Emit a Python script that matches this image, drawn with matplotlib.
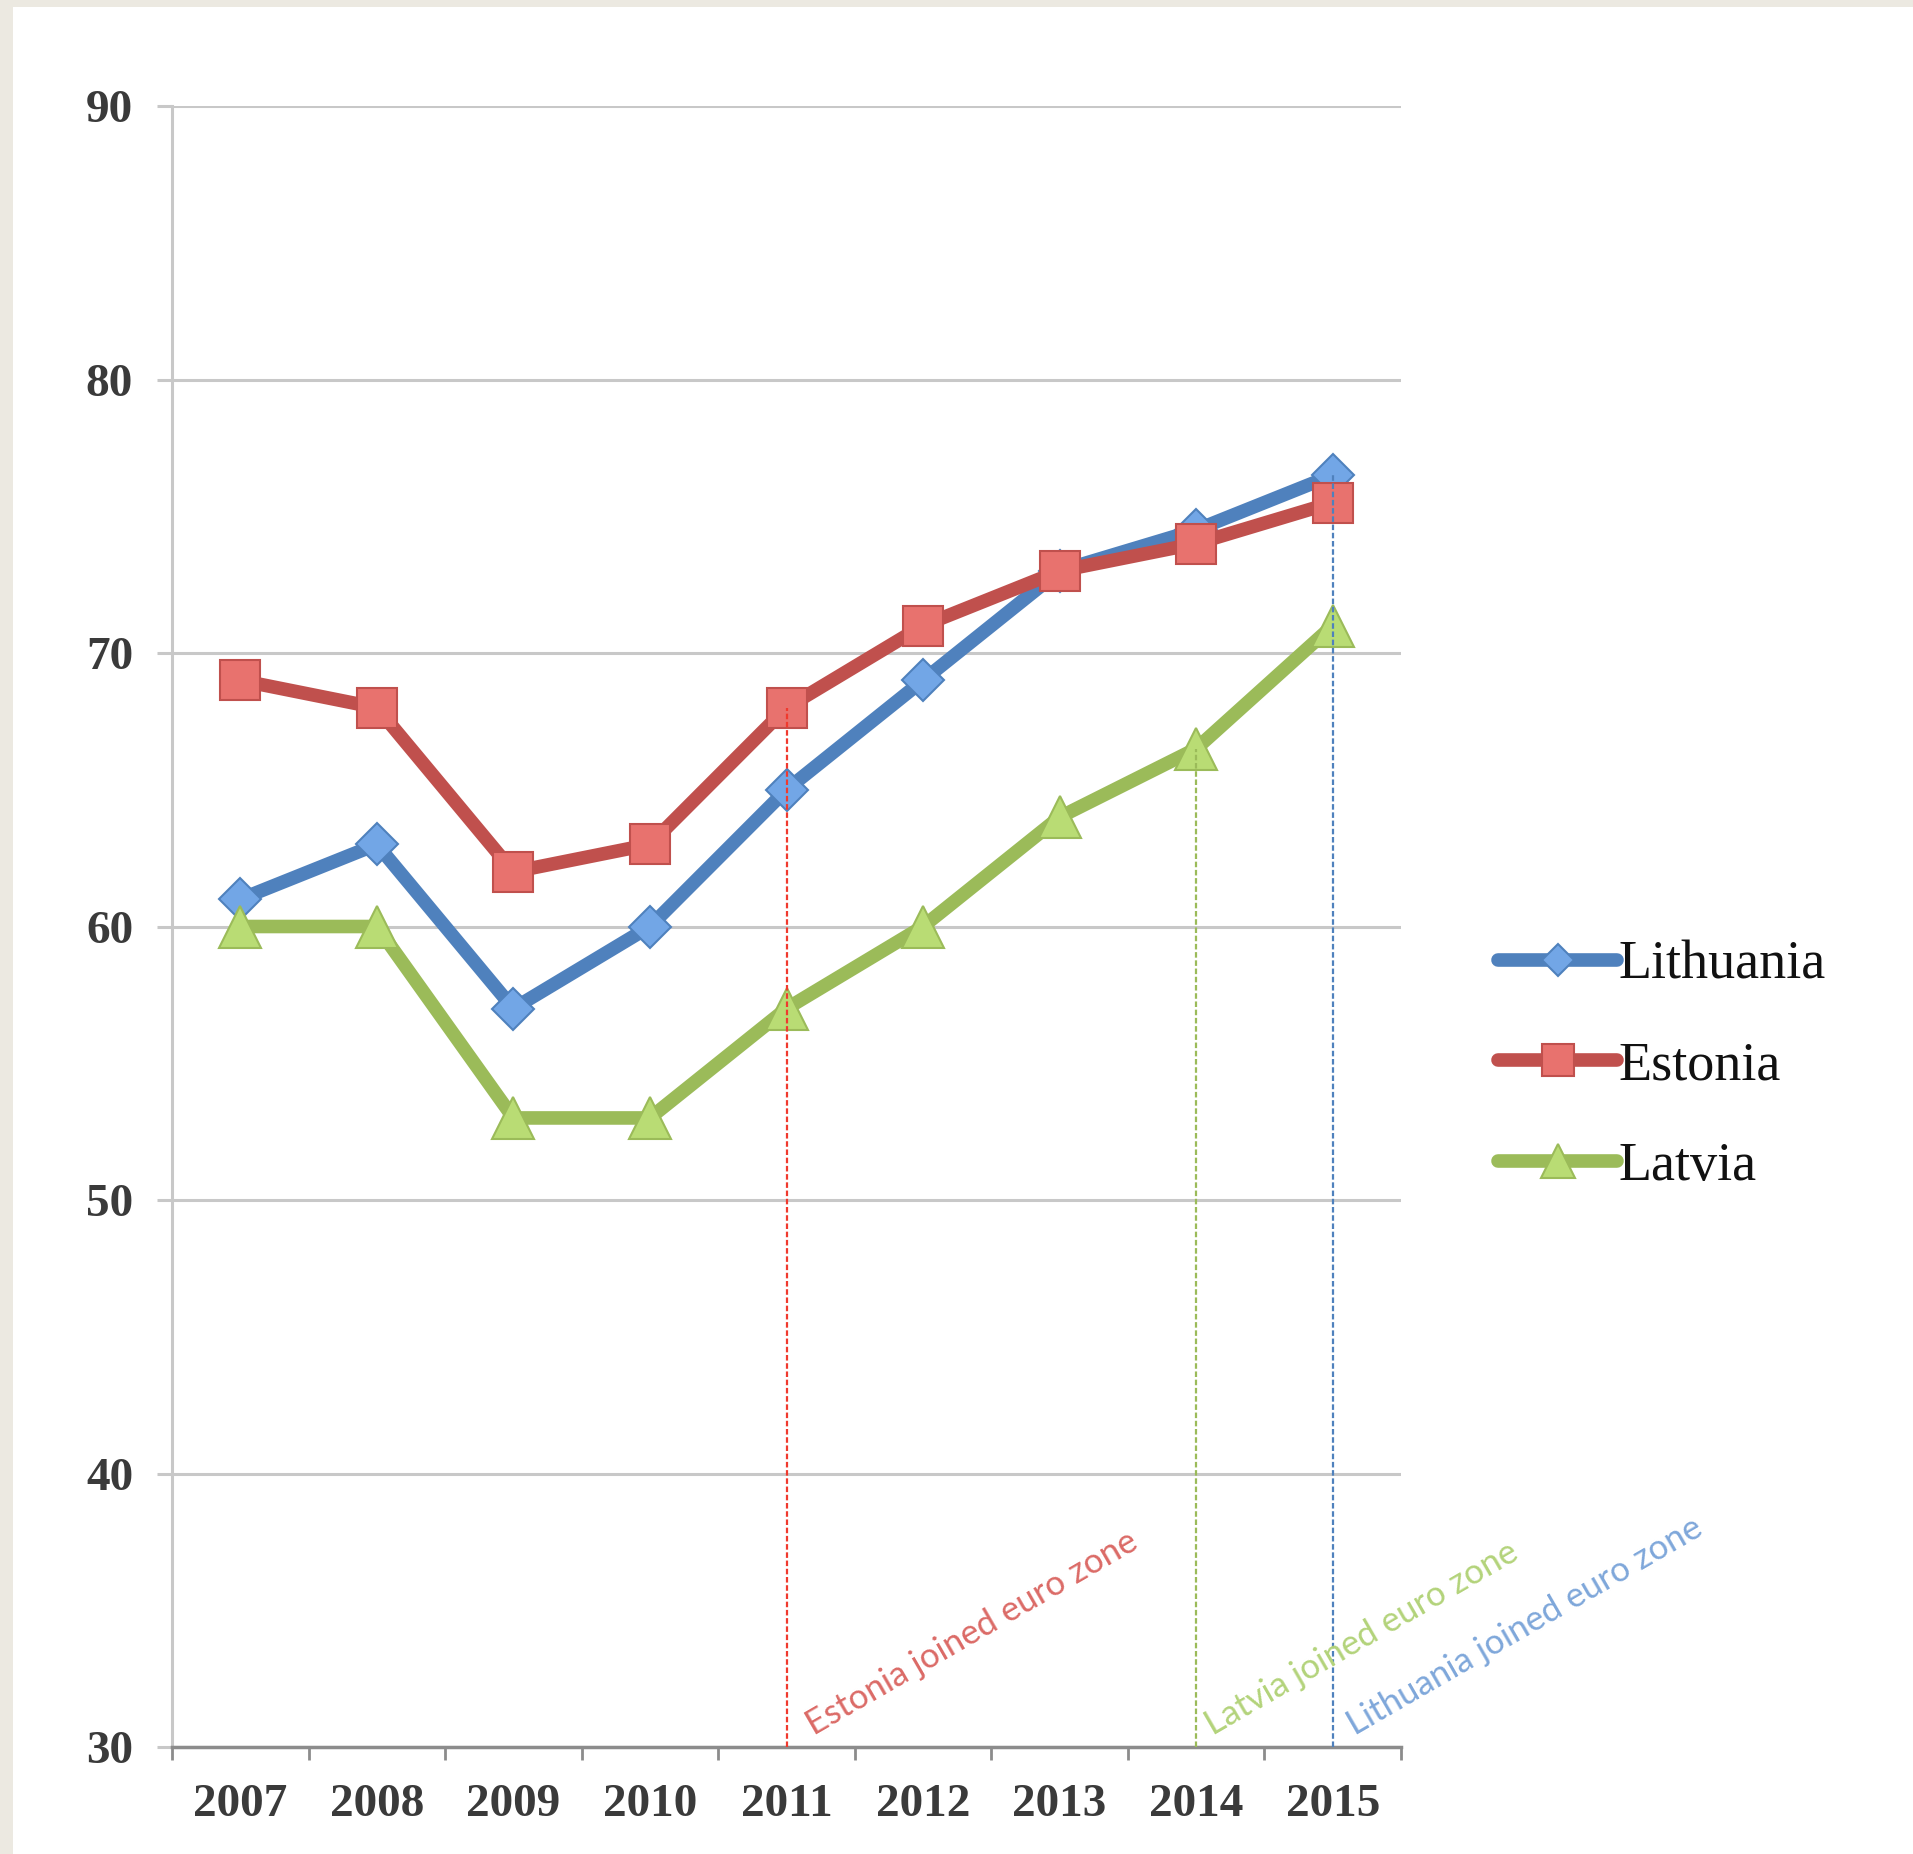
import matplotlib
matplotlib.use("Agg")
import matplotlib.pyplot as plt
from matplotlib.patches import Rectangle
import numpy as np

years = ["2007", "2008", "2009", "2010", "2011", "2012", "2013", "2014", "2015"]
lithuania = [61, 63, 57, 60, 65, 69, 73, 74.5, 76.5]
estonia = [69, 68, 62, 63, 68, 71, 73, 74, 75.5]
latvia = [60, 60, 53, 53, 57, 60, 64, 66.5, 71]
y_ticks = [30, 40, 50, 60, 70, 80, 90]
euro_join = [("Estonia", "2011"), ("Latvia", "2014"), ("Lithuania", "2015")]
annot_texts = ["Estonia joined euro zone", "Latvia joined euro zone", "Lithuania joined euro zone"]

W, H = 1913, 1854
fig = plt.figure(figsize=(W / 100, H / 100), dpi=100)
fig.patch.set_facecolor("#ECE9E1")
fig.add_artist(Rectangle((13 / W, 0), 1 - 13 / W, 1 - 7 / H, transform=fig.transFigure,
                         facecolor="white", edgecolor="none", zorder=-10))

ax = fig.add_axes([172 / W, 1 - 1747 / H, (1401 - 172) / W, (1747 - 106) / H])
ax.set_facecolor("none")

x = np.arange(len(years))
series = {
    "Lithuania": (lithuania, "#4F81BD", "D", "#72A6E6", 21),
    "Estonia": (estonia, "#C0504D", "s", "#E8726E", 29),
    "Latvia": (latvia, "#9BBB59", "^", "#B9DC74", 30),
}
for name, (vals, col, mk, fc, ms) in series.items():
    ax.plot(x, vals, color=col, lw=9.8, marker=mk, markersize=ms, markerfacecolor=fc,
            markeredgecolor=col, markeredgewidth=1.5, solid_capstyle="round",
            solid_joinstyle="round", label=name, zorder=3)

line_cols = {"Estonia": "#F03A2E", "Latvia": "#9BBB59", "Lithuania": "#4F81BD"}
text_cols = {"Estonia": "#DB6A66", "Latvia": "#B3D37A", "Lithuania": "#7EA7DA"}
text_dx = {"Estonia": 0.2, "Latvia": 0.12, "Lithuania": 0.16}
for (country, yr), txt in zip(euro_join, annot_texts):
    i = years.index(yr)
    v = series[country][0][i]
    ax.plot([i, i], [30, v], color=line_cols[country], lw=1.6, ls=(0, (2.5, 1.2)), zorder=5)
    ax.text(i + text_dx[country], 30.4, txt, rotation=30, rotation_mode="anchor",
            ha="left", va="baseline", color=text_cols[country], fontsize=25,
            family="Lato", zorder=6)

ax.set_xlim(-0.5, len(years) - 0.5)
ax.set_ylim(30, 90)
ax.set_yticks(y_ticks)
ax.set_xticks(x)
ax.set_xticklabels(years)
ax.set_xticks(np.arange(-0.5, len(years), 1.0), minor=True)
ax.yaxis.grid(True, color="#C8C8C8", lw=2.2, zorder=0)
ax.set_axisbelow(True)
for s in ["top", "right"]:
    ax.spines[s].set_visible(False)
ax.spines["left"].set_color("#C8C8C8")
ax.spines["left"].set_linewidth(2.2)
ax.spines["bottom"].set_color("#8C8C8C")
ax.spines["bottom"].set_linewidth(2.5)
ax.tick_params(axis="y", length=11, width=2.2, color="#C8C8C8", pad=17,
               labelsize=34, labelcolor="#3A3A3A")
ax.tick_params(axis="x", which="major", length=0, pad=27, labelsize=34, labelcolor="#3A3A3A")
ax.tick_params(axis="x", which="minor", length=9, width=2, color="#8C8C8C")
for lab in ax.get_xticklabels() + ax.get_yticklabels():
    lab.set_family("Liberation Serif")
    lab.set_fontweight("bold")

leg = fig.legend(loc="center left", bbox_to_anchor=(1498 / W, 1 - 1066 / H), frameon=False,
                 prop={"family": "Liberation Serif", "size": 39}, handlelength=2.2,
                 handletextpad=0.02, labelspacing=0.92, borderpad=0, borderaxespad=0,
                 markerscale=0.8)
for t in leg.get_texts():
    t.set_color("#111111")

fig.savefig("out.png", dpi=100, facecolor=fig.get_facecolor())
